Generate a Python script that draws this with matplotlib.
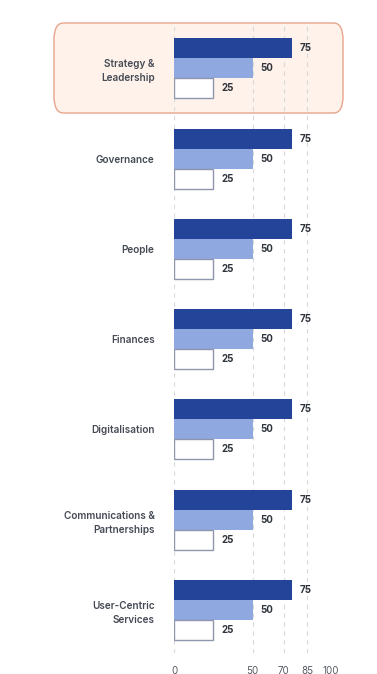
import matplotlib.pyplot as plt
from matplotlib.patches import FancyBboxPatch

categories = ["Strategy &\nLeadership", "Governance", "People", "Finances",
              "Digitalisation", "Communications &\nPartnerships", "User-Centric\nServices"]
series_a = [75, 75, 75, 75, 75, 75, 75]
series_b = [50, 50, 50, 50, 50, 50, 50]
series_c = [25, 25, 25, 25, 25, 25, 25]
xticks = [0, 50, 70, 85, 100]

plt.rcParams['font.family'] = ['Inter', 'DejaVu Sans']

W, H = 377, 674
fig = plt.figure(figsize=(W / 100, H / 100), dpi=100)

# highlight box behind the first group (figure coords)
box = FancyBboxPatch((54 / W, 1 - 113 / H), (343 - 54) / W, (113 - 23) / H,
                     boxstyle="round,pad=0,rounding_size=0.025",
                     transform=fig.transFigure, facecolor="#fef2ea",
                     edgecolor="#e8a48d", linewidth=1.0, zorder=-1)
fig.patches.append(box)

ax = fig.add_axes([174 / W, 1 - 653 / H, (331 - 174) / W, (653 - 25) / H])
ax.patch.set_alpha(0)

bh = 20 / 90.3
ys = list(range(len(categories)))
colors = ["#24449a", "#8fa8e0", "#ffffff"]
for k, vals in enumerate([series_a, series_b, series_c]):
    pos = [y + (k - 1) * bh for y in ys]
    ec = "#8d96ad" if k == 2 else colors[k]
    lw = 1.0 if k == 2 else 0
    ax.barh(pos, vals, height=bh, color=colors[k], edgecolor=ec, linewidth=lw, zorder=3)
    for p, v in zip(pos, vals):
        ax.annotate(str(v), (v, p), xytext=(6, 0), textcoords="offset points",
                    va="center", ha="left", fontsize=7, fontweight="bold",
                    color="#2f333b", zorder=4)

ax.set_xlim(0, 100)
ax.set_ylim(6.476, -0.48)
ax.set_xticks(xticks)
ax.set_xticklabels([str(t) for t in xticks], fontsize=7, color="#555a63")
ax.tick_params(axis="x", length=0, pad=9)
ax.set_yticks(ys)
ax.set_yticklabels(categories, fontsize=7.2, fontweight="semibold", color="#454a55",
                   linespacing=1.5)
ax.tick_params(axis="y", length=0, pad=14)
for lab in ax.get_yticklabels():
    lab.set_multialignment("right")
for x in xticks:
    ax.axvline(x, color="#d9d9d9", linestyle=(0, (4, 4)), linewidth=0.8, zorder=1)
for s in ax.spines.values():
    s.set_visible(False)

fig.savefig("out.png", dpi=100)
